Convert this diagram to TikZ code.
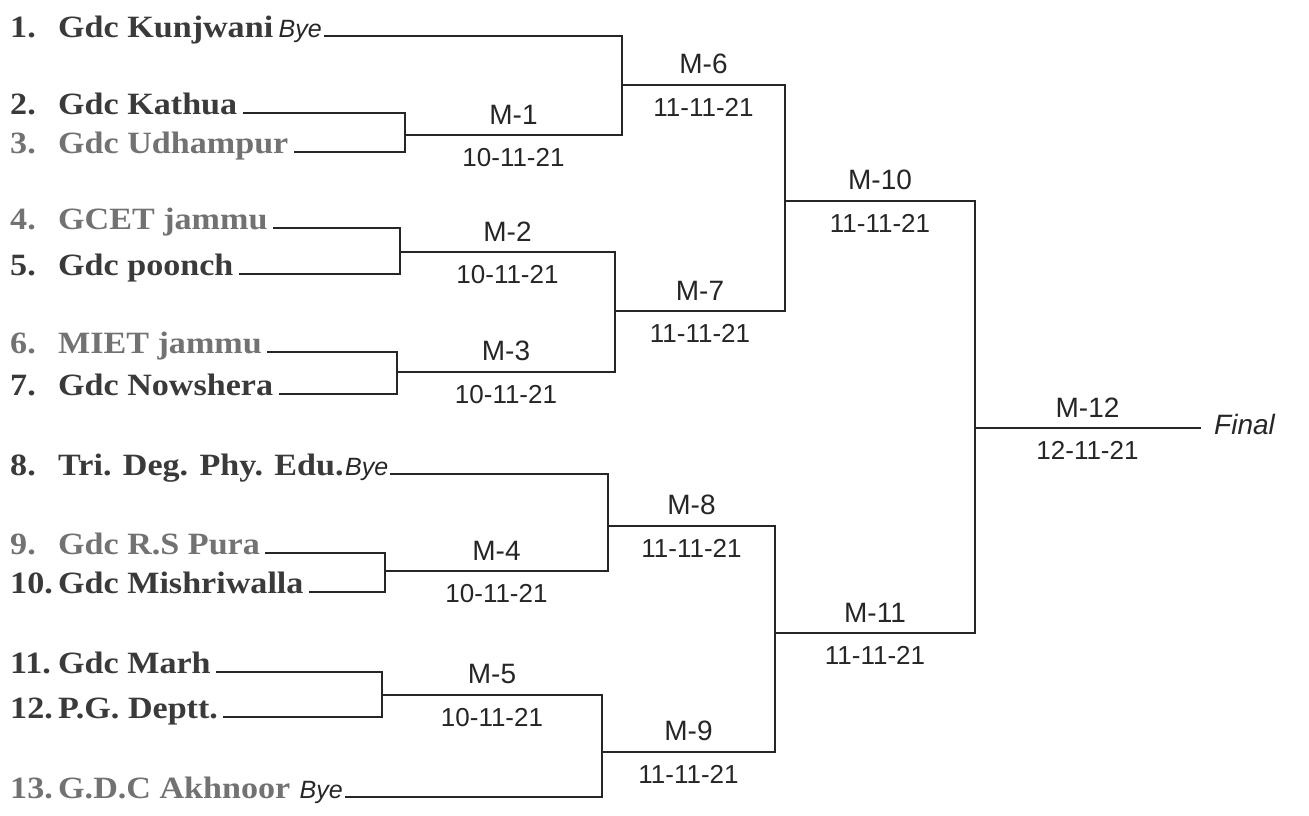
\documentclass[tikz,border=0pt]{standalone}
\usepackage{fontspec}
\setmainfont{Liberation Serif}[FakeStretch=1.1]
\newfontfamily\handfont{Liberation Sans}
\usetikzlibrary{positioning}
\definecolor{teamdark}{HTML}{3A3A3A}
\definecolor{teamgrey}{HTML}{727272}
\definecolor{inkline}{HTML}{262626}
\begin{document}
\begin{tikzpicture}
[x=1pt,y=-1pt,
  teamdecorate/.style={anchor=west,inner xsep=6pt,inner ysep=0pt,%
    font=\fontsize{31}{31}\selectfont\bfseries,text height=0.62em,text depth=0.3em},%
  byedecorate/.style={inner sep=3pt,yshift=5pt,font=\handfont\itshape\fontsize{25}{25}\selectfont,text=inkline},%
  linedecorate/.style={-,line width=1.8pt,draw=inkline,line cap=rect},%
  matchdecorate/.style={midway,above=10pt,inner sep=0pt,font=\handfont\fontsize{28}{28}\selectfont,text=inkline},%
  datedecorate/.style={midway,below=12pt,inner sep=0pt,font=\handfont\fontsize{26}{26}\selectfont,text=inkline}]
\useasboundingbox (0,0) rectangle (1309,815);
%% teams
\foreach \num/\y/\tcol/\teamname in {1/36/teamdark/Gdc Kunjwani,
  2/113/teamdark/Gdc Kathua, 3/152/teamgrey/Gdc Udhampur,
  4/228/teamgrey/GCET jammu, 5/274/teamdark/Gdc poonch,
  6/352/teamgrey/MIET jammu, 7/394/teamdark/Gdc Nowshera,
  8/474/teamdark/Tri. Deg. Phy. Edu., 9/553/teamgrey/Gdc R.S Pura,
  10/592/teamdark/Gdc Mishriwalla, 11/672/teamdark/Gdc Marh,
  12/717/teamdark/P.G. Deptt., 13/797/teamgrey/G.D.C Akhnoor} {
  \node (n\num) at (4,\y) [teamdecorate,text=\tcol] {\num.};
  \node (t\num) at (52,\y) [teamdecorate,text=\tcol] {\teamname};
}
\node (b1) [byedecorate,right=-4pt of t1] {Bye};
\node (b8) [byedecorate,right=-8pt of t8] {Bye};
\node (b13) [byedecorate,right=0pt of t13] {Bye};
%% joints of the team lines
\foreach \num/\x/\y in {1/622/36, 2/405/113, 3/405/152, 4/400/228, 5/400/274,
  6/397/352, 7/397/394, 8/608/474, 9/385/553, 10/385/592, 11/382/672,
  12/382/717, 13/602/797} {
  \coordinate (j\num) at (\x,\y);
}
%% match lines
\foreach \m/\xa/\xb/\y in {1/405/622/135, 2/400/615/252, 3/397/615/372,
  4/385/608/571, 5/382/602/695, 6/622/785/85, 7/615/785/311, 8/608/775/526,
  9/602/775/752, 10/785/975/201, 11/775/975/633, 12/975/1200/428} {
  \coordinate (m\m) at (\xa,\y);
  \coordinate (w\m) at (\xb,\y);
}
\path
\foreach \num in {2,3,4,5,6,7,9,10,11,12} {
  (t\num) edge[linedecorate] (j\num)
}
\foreach \num in {1,8,13} {
  (b\num.east |- j\num) edge[linedecorate] (j\num)
};
\path
\foreach \a/\b in {j2/j3, j4/j5, j6/j7, j9/j10, j11/j12, j1/w1, w2/w3,
  j8/w4, w5/j13, w6/w7, w8/w9, w10/w11} {
  (\a) edge[linedecorate] (\b)
};
\foreach \m/\mdate in {1/10-11-21, 2/10-11-21, 3/10-11-21, 4/10-11-21,
  5/10-11-21, 6/11-11-21, 7/11-11-21, 8/11-11-21, 9/11-11-21,
  10/11-11-21, 11/11-11-21, 12/12-11-21} {
  \draw[linedecorate] (m\m) -- node[matchdecorate] (ml\m) {M-\m}
    node[datedecorate] (md\m) {\mdate} (w\m);
}
\node (final) [right=14pt of w12,yshift=4pt,inner sep=0pt,%
  font=\handfont\itshape\fontsize{28}{28}\selectfont,text=inkline] {Final};
\end{tikzpicture}
\end{document}
